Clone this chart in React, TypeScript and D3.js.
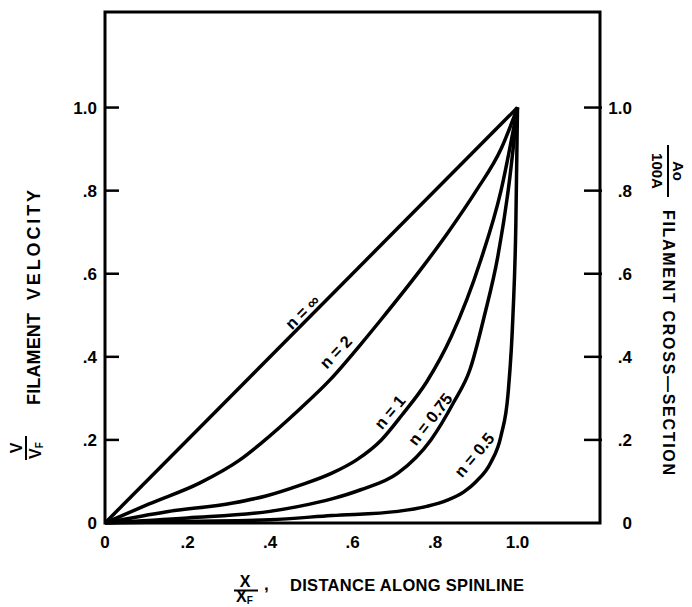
import React, { useEffect, useRef } from "react";
import * as d3 from "d3";

const W = 692;
const H = 607;
const FONT = "'Liberation Sans', Arial, Helvetica, sans-serif";

// axis ticks (same on left / right / bottom)
const tickValues = [0, 0.2, 0.4, 0.6, 0.8, 1.0];
const tickLabels = ["0", ".2", ".4", ".6", ".8", "1.0"];

// curves, [x / xF, v / vF]
const nInf: [number, number][] = [[0, 0], [1, 1]];
const n2: [number, number][] = [
  [0, 0], [0.107, 0.046], [0.229, 0.096], [0.327, 0.152], [0.376, 0.19],
  [0.473, 0.275], [0.546, 0.345], [0.62, 0.43], [0.668, 0.488], [0.773, 0.62],
  [0.832, 0.7], [0.9, 0.8], [0.96, 0.9], [1, 1],
];
const n1: [number, number][] = [
  [0, 0], [0.15, 0.027], [0.31, 0.048], [0.39, 0.065], [0.47, 0.09],
  [0.55, 0.12], [0.61, 0.152], [0.67, 0.2], [0.72, 0.26], [0.78, 0.34],
  [0.84, 0.45], [0.91, 0.63], [0.96, 0.8], [1, 1],
];
const n075: [number, number][] = [
  [0, 0], [0.2, 0.012], [0.4, 0.028], [0.47, 0.04], [0.55, 0.058],
  [0.62, 0.08], [0.71, 0.12], [0.79, 0.2], [0.845, 0.29], [0.885, 0.37],
  [0.92, 0.5], [0.952, 0.64], [0.98, 0.82], [1, 1],
];
const n05: [number, number][] = [
  [0, 0], [0.2, 0.004], [0.4, 0.008], [0.55, 0.018], [0.71, 0.028],
  [0.78, 0.04], [0.83, 0.055], [0.87, 0.075], [0.9, 0.1], [0.935, 0.145],
  [0.96, 0.21], [0.977, 0.31], [0.989, 0.5], [0.996, 0.72], [1, 1],
];

const curves = [nInf, n2, n1, n075, n05];
const curveNames = ["n = \u221e", "n = 2", "n = 1", "n = 0.75", "n = 0.5"];
// where each curve name sits (data units) and its slant
const labelX = [0.478, 0.559, 0.69, 0.788, 0.895];
const labelY = [0.508, 0.412, 0.267, 0.25, 0.164];
const labelAngle = [-45, -46, -50, -52, -50];

const App = () => {
  const svgRef = useRef<SVGSVGElement>(null);

  useEffect(() => {
    const svg = d3.select(svgRef.current);
    svg.selectAll("*").remove();

    const x = d3.scaleLinear().domain([0, 1.2]).range([105, 600]);
    const y = d3.scaleLinear().domain([0, 1.23]).range([523, 12]);

    const g = svg
      .append("g")
      .attr("font-family", FONT)
      .attr("font-weight", "bold")
      .attr("fill", "#000");

    // frame
    g.append("rect")
      .attr("x", x(0))
      .attr("y", y(1.23))
      .attr("width", x(1.2) - x(0))
      .attr("height", y(0) - y(1.23))
      .attr("fill", "none")
      .attr("stroke", "#000")
      .attr("stroke-width", 3);

    // left ticks (inward) and labels
    g.selectAll(".ltick")
      .data(tickValues.slice(1))
      .enter()
      .append("line")
      .attr("x1", x(0))
      .attr("x2", x(0) + 14)
      .attr("y1", (d) => y(d))
      .attr("y2", (d) => y(d))
      .attr("stroke", "#000")
      .attr("stroke-width", 2.5);

    g.selectAll(".llab")
      .data(tickValues)
      .enter()
      .append("text")
      .attr("x", 97)
      .attr("y", (d) => y(d))
      .attr("dy", "0.36em")
      .attr("text-anchor", "end")
      .attr("font-size", 17)
      .text((d, i) => tickLabels[i]);

    // right ticks (inward) and labels
    g.selectAll(".rtick")
      .data(tickValues.slice(1))
      .enter()
      .append("line")
      .attr("x1", x(1.2) + 2)
      .attr("x2", x(1.2) - 16)
      .attr("y1", (d) => y(d))
      .attr("y2", (d) => y(d))
      .attr("stroke", "#000")
      .attr("stroke-width", 2.5);

    g.selectAll(".rlab")
      .data(tickValues)
      .enter()
      .append("text")
      .attr("x", 632)
      .attr("y", (d) => y(d))
      .attr("dy", "0.36em")
      .attr("text-anchor", "end")
      .attr("font-size", 17)
      .text((d, i) => tickLabels[i]);

    // bottom labels
    g.selectAll(".blab")
      .data(tickValues)
      .enter()
      .append("text")
      .attr("x", (d) => x(d))
      .attr("y", 548)
      .attr("text-anchor", "middle")
      .attr("font-size", 17)
      .text((d, i) => tickLabels[i]);

    // curves
    const line = d3
      .line<[number, number]>()
      .x((d) => x(d[0]))
      .y((d) => y(d[1]))
      .curve(d3.curveMonotoneX);

    g.selectAll(".curve")
      .data(curves)
      .enter()
      .append("path")
      .attr("d", (d) => line(d))
      .attr("fill", "none")
      .attr("stroke", "#000")
      .attr("stroke-width", 3.5)
      .attr("stroke-linejoin", "round");

    // curve names
    g.selectAll(".cname")
      .data(curveNames)
      .enter()
      .append("text")
      .attr(
        "transform",
        (d, i) => `translate(${x(labelX[i])},${y(labelY[i])}) rotate(${labelAngle[i]})`
      )
      .attr("text-anchor", "middle")
      .attr("dy", "0.36em")
      .attr("font-size", 16.5)
      .text((d) => d);

    // x axis title
    g.append("text").attr("x", 245).attr("y", 587).attr("text-anchor", "middle")
      .attr("font-size", 16).text("X");
    g.append("line").attr("x1", 234).attr("x2", 258).attr("y1", 590.5).attr("y2", 590.5)
      .attr("stroke", "#000").attr("stroke-width", 2);
    const xf = g.append("text").attr("x", 236).attr("y", 602).attr("font-size", 16);
    xf.append("tspan").text("X");
    xf.append("tspan").attr("font-size", 10).attr("dy", 2).text("F");
    g.append("text").attr("x", 264).attr("y", 590).attr("font-size", 17).text(",");
    g.append("text")
      .attr("x", 290)
      .attr("y", 591)
      .attr("font-size", 16.5)
      .attr("textLength", 234)
      .text("DISTANCE ALONG SPINLINE");

    // left title
    const lt = g.append("g").attr("transform", "translate(40,0) rotate(-90)");
    lt.append("text").attr("x", -405).attr("y", 0).attr("font-size", 18)
      .attr("textLength", 92).text("FILAMENT");
    lt.append("text").attr("x", -300).attr("y", 0).attr("font-size", 18)
      .attr("textLength", 110).text("VELOCITY");
    const lf = g.append("g").attr("transform", "translate(26,448) rotate(-90)");
    lf.append("text").attr("x", 0).attr("y", -4).attr("text-anchor", "middle")
      .attr("font-size", 16).text("V");
    lf.append("line").attr("x1", -12).attr("x2", 12).attr("y1", 0).attr("y2", 0)
      .attr("stroke", "#000").attr("stroke-width", 2);
    const vf = lf.append("text").attr("x", -11).attr("y", 15).attr("font-size", 16);
    vf.append("tspan").text("V");
    vf.append("tspan").attr("font-size", 10).attr("dy", 2).text("F");

    // right title
    const rt = g.append("g").attr("transform", "translate(663,0) rotate(90)");
    rt.append("text").attr("x", 210).attr("y", 0).attr("font-size", 16)
      .attr("textLength", 265).text("FILAMENT CROSS\u2014SECTION");
    const rf = g.append("g").attr("transform", "translate(668,171) rotate(90)");
    rf.append("text").attr("x", 0).attr("y", -5).attr("text-anchor", "middle")
      .attr("font-size", 15).text("Ao");
    rf.append("line").attr("x1", -26).attr("x2", 26).attr("y1", 0).attr("y2", 0)
      .attr("stroke", "#000").attr("stroke-width", 2);
    rf.append("text").attr("x", 0).attr("y", 16).attr("text-anchor", "middle")
      .attr("font-size", 15).text("100A");
  }, []);

  return (
    <svg
      ref={svgRef}
      width={W}
      height={H}
      style={{ position: "absolute", left: 0, top: 0, background: "#fff" }}
    />
  );
};

export default App;
